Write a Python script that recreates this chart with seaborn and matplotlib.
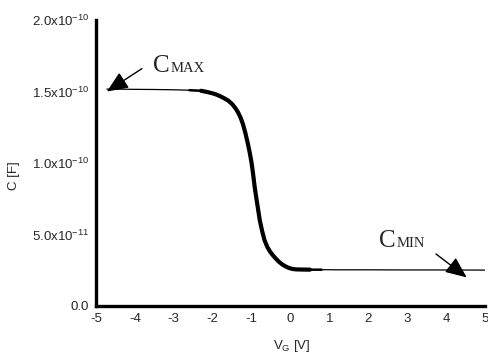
import matplotlib
matplotlib.use("Agg")
import matplotlib.pyplot as plt
import seaborn as sns
import pandas as pd
import numpy as np

# ---- data ----
vg = [-4.72, -4.3, -4.0, -3.5, -3.0, -2.6, -2.3, -2.15, -2.0, -1.9, -1.8, -1.7, -1.6,
      -1.5, -1.42, -1.35, -1.28, -1.22, -1.16, -1.1, -1.05, -1.0, -0.96, -0.92,
      -0.87, -0.83, -0.79, -0.73, -0.67, -0.6, -0.53, -0.46, -0.38, -0.3, -0.21,
      -0.12, -0.04, 0.05, 0.15, 0.3, 0.5, 0.8, 1.2, 2.0, 3.0, 4.0, 5.0]
cap = [1.517e-10, 1.516e-10, 1.515e-10, 1.514e-10, 1.512e-10, 1.509e-10, 1.505e-10,
       1.497e-10, 1.487e-10, 1.478e-10, 1.466e-10, 1.452e-10, 1.436e-10,
       1.412e-10, 1.385e-10, 1.355e-10, 1.315e-10, 1.270e-10, 1.210e-10, 1.140e-10,
       1.075e-10, 1.000e-10, 0.920e-10, 0.830e-10,
       0.740e-10, 0.670e-10, 0.600e-10, 0.525e-10, 0.462e-10, 0.415e-10, 0.382e-10,
       0.357e-10, 0.332e-10, 0.310e-10, 0.290e-10,
       0.276e-10, 0.266e-10, 0.259e-10, 0.256e-10, 0.255e-10, 0.254e-10, 0.254e-10,
       0.253e-10, 0.253e-10, 0.252e-10, 0.252e-10, 0.251e-10]
thick_range = (-2.3, 0.5)
medium_ranges = [(-2.8, -2.15), (0.3, 0.9)]

x_ticks = [-5, -4, -3, -2, -1, 0, 1, 2, 3, 4, 5]
y_ticks = [0.0, 5.0e-11, 1.0e-10, 1.5e-10, 2.0e-10]
y_tick_labels = ["0.0", r"5.0x10$^{-11}$", r"1.0x10$^{-10}$", r"1.5x10$^{-10}$", r"2.0x10$^{-10}$"]
x_label = r"V$_{G}$ [V]"
y_label = "C [F]"

cmax = dict(tip=(-4.72, 1.50e-10), tail=(-3.82, 1.66e-10), txt=(-3.54, 1.636e-10), main="C", small="MAX")
cmin = dict(tip=(4.53, 2.0e-11), tail=(3.74, 3.64e-11), txt=(2.28, 4.13e-11), main="C", small="MIN")

# ---- style ----
sns.set_style("white")
plt.rcParams['font.family'] = ['Liberation Sans', 'DejaVu Sans']
plt.rcParams['mathtext.fontset'] = 'custom'
plt.rcParams['mathtext.rm'] = 'Liberation Sans'
plt.rcParams['mathtext.it'] = 'Liberation Sans'
plt.rcParams['mathtext.default'] = 'regular'

df = pd.DataFrame({"vg": vg, "cap": cap})

fig = plt.figure(figsize=(4.89, 3.55), dpi=100)
ax = fig.add_axes([96/489, 1 - 306/355, 389/489, 286/355])

sns.lineplot(data=df, x="vg", y="cap", ax=ax, color="black", lw=0.9)
for lo, hi in medium_ranges:
    med = df[(df.vg >= lo) & (df.vg <= hi)]
    sns.lineplot(data=med, x="vg", y="cap", ax=ax, color="black", lw=1.8,
                 solid_capstyle="round")
thk = df[(df.vg >= thick_range[0]) & (df.vg <= thick_range[1])]
sns.lineplot(data=thk, x="vg", y="cap", ax=ax, color="black", lw=3.0,
             solid_capstyle="round", solid_joinstyle="round")

ax.set_xlim(-5, 5)
ax.set_ylim(0, 2.0e-10)
ax.set_xticks(x_ticks)
ax.set_xticklabels([str(t) for t in x_ticks])
ax.set_yticks(y_ticks)
ax.set_yticklabels(y_tick_labels)
ax.set_xticks(np.arange(-4.5, 5, 1.0), minor=True)
ax.set_yticks([2.5e-11, 7.5e-11, 1.25e-10, 1.75e-10], minor=True)

for s in ["top", "right"]:
    ax.spines[s].set_visible(False)
for s in ["left", "bottom"]:
    ax.spines[s].set_linewidth(2.4)
    ax.spines[s].set_color("black")

ax.tick_params(axis="both", which="major", direction="out", length=3, width=2.4,
               color="black", labelsize=9.5, pad=2)
ax.tick_params(axis="both", which="minor", direction="inout", length=2, width=1,
               color="#555555")

ax.set_xlabel(x_label, fontsize=9.5)
ax.set_ylabel(y_label, fontsize=9.5)
ax.xaxis.set_label_coords(0.504, -0.112)
ax.yaxis.set_label_coords(-0.196, 0.455)

for a in (cmax, cmin):
    ax.annotate("", xy=a["tip"], xytext=a["tail"],
                arrowprops=dict(arrowstyle="-|>,head_length=0.65,head_width=0.28",
                                mutation_scale=20, color="black", lw=1.0,
                                shrinkA=0, shrinkB=0))
    t = ax.text(a["txt"][0], a["txt"][1], a["main"], fontsize=18,
                family="Liberation Serif", ha="left", va="baseline")
    ax.annotate(a["small"], xy=(1, 0), xycoords=t, xytext=(0.5, 1.2),
                textcoords="offset points", fontsize=10.5,
                family="Liberation Serif", ha="left", va="bottom")

fig.savefig("out.png", dpi=100)
